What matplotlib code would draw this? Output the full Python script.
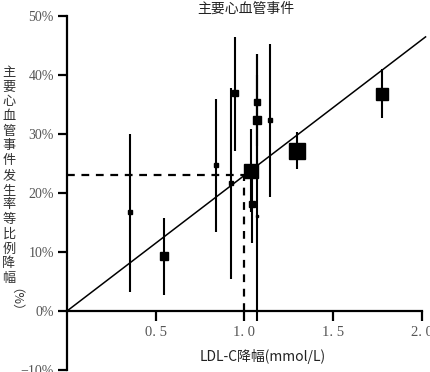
import matplotlib
matplotlib.use("Agg")
import matplotlib.pyplot as plt
import numpy as np

plt.rcParams['font.family'] = ['Noto Sans CJK SC', 'DejaVu Sans']

# 각 연구: LDL-C 감소량, 사건 감소율(%), 95% CI
ldl_drop = [0.355, 0.546, 0.839, 0.924, 0.946, 1.035, 1.044, 1.070, 1.070, 1.070, 1.144, 1.294, 1.775]
risk_drop = [16.7, 9.4, 24.7, 21.7, 36.9, 23.7, 18.2, 35.4, 32.4, 16.1, 32.4, 27.2, 36.8]
ci_low = [3.2, 2.7, 13.4, 5.4, 27.2, 16.8, 11.5, 28.0, 25.0, -1.7, 19.4, 24.0, 32.7]
ci_high = [30.0, 15.8, 35.9, 37.8, 46.5, 30.8, 24.0, 43.6, 40.0, 43.6, 45.3, 30.4, 41.0]
marker_size = [2.5, 6, 3, 2.5, 4.5, 9.5, 5, 4.5, 5.5, 2, 3, 11.5, 8.5]

# 회귀선: 1 mmol/L 당 23%
slope = 23.0
line_x = [0, 2.02]
ref_x = 1.0

x_ticks = [0.5, 1.0, 1.5, 2.0]
x_labels = ['0. 5', '1. 0', '1. 5', '2. 0']
y_ticks = [-10, 0, 10, 20, 30, 40, 50]
y_labels = ['−10%', '0%', '10%', '20%', '30%', '40%', '50%']

serif = ['Liberation Serif', 'Noto Sans CJK SC']

fig = plt.figure(figsize=(4.31, 3.72), dpi=100)
ax = fig.add_axes([67 / 431, 1 - 370 / 372, 355 / 431, 354 / 372])

ax.set_xlim(0, 2.0)
ax.set_ylim(-10, 50)

# 회귀선
ax.plot(line_x, [slope * v for v in line_x], color='black', lw=1.1, clip_on=False, zorder=3)

# 점선 (1.0 mmol/L 기준)
ref_y = slope * ref_x
ax.plot([0, ref_x], [ref_y, ref_y], color='black', lw=1.6, ls=(0, (3.5, 3)), zorder=2)
ax.plot([ref_x, ref_x], [0, ref_y], color='black', lw=1.6, ls=(0, (3.5, 3)), zorder=2)

# 오차 막대 + 사각형 마커
for xi, yi, lo, hi, ms in zip(ldl_drop, risk_drop, ci_low, ci_high, marker_size):
    ax.plot([xi, xi], [lo, hi], color='black', lw=1.5, solid_capstyle='butt', clip_on=False, zorder=4)
    ax.plot(xi, yi, marker='s', ms=ms, color='black', clip_on=False, zorder=5)

# 축 스타일
for s in ['top', 'right']:
    ax.spines[s].set_visible(False)
ax.spines['bottom'].set_position(('data', 0))
ax.spines['left'].set_linewidth(1.6)
ax.spines['bottom'].set_linewidth(1.6)

ax.set_xticks(x_ticks)
ax.set_xticklabels(x_labels, color='#555555', fontsize=10.5, family=serif)
ax.set_yticks(y_ticks)
ax.set_yticklabels(y_labels, color='#555555', fontsize=10, family=serif)
ax.tick_params(axis='x', direction='out', length=7, width=1.6, pad=4)
ax.tick_params(axis='y', direction='out', length=6.5, width=1.6, pad=3)

fig.text(246 / 431, 1 - 9 / 372, '主要心血管事件', ha='center', va='center',
         fontsize=10, color='#222222')
fig.text(263 / 431, 1 - 357 / 372, 'LDL-C降幅(mmol/L)', ha='center', va='center',
         fontsize=10, color='#222222')

ylab = '主要心血管事件发生率等比例降幅'
fig.text(9 / 431, 1 - 66 / 372, '\n'.join(ylab), ha='center', va='top',
         fontsize=9.5, color='#333333', linespacing=1.17)
fig.text(9 / 431, 1 - 306 / 372, '（%）', ha='center', va='center',
         fontsize=9, color='#333333', rotation=-90)

fig.savefig('out.png', dpi=100)
